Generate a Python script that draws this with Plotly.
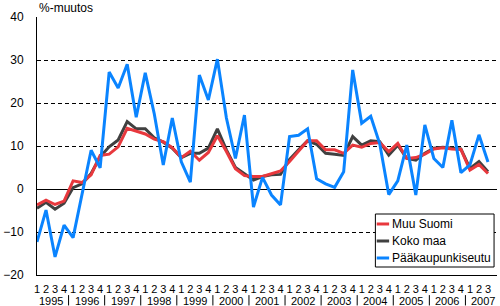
import plotly.graph_objects as go

years = [str(y) for y in range(1995, 2008)]
quarters = ["1", "2", "3", "4"] * 12 + ["1", "2", "3"]
x = list(range(len(quarters)))

muu_suomi = [-3.7, -2.6, -3.6, -2.8, 1.9, 1.5, 3.3, 7.8, 8.1, 9.8,
             14.1, 13.5, 12.8, 11.6, 11.0, 9.6, 7.3, 8.8, 6.7, 8.5,
             12.4, 8.7, 4.7, 3.1, 2.9, 2.9, 3.6, 4.2, 6.4, 8.7,
             11.2, 11.2, 9.1, 9.1, 8.3, 10.2, 9.7, 10.6, 10.8, 8.7,
             10.6, 7.1, 7.3, 8.1, 9.3, 9.6, 9.3, 9.2, 4.4, 5.7, 3.6]
koko_maa = [-4.5, -3.1, -4.7, -3.3, 0.3, 1.2, 3.6, 7.5, 9.8, 11.4,
            15.7, 14.0, 14.0, 11.9, 10.9, 9.5, 7.3, 8.3, 8.3, 9.5,
            14.0, 9.1, 5.0, 3.6, 2.1, 2.9, 3.3, 3.4, 6.9, 9.1,
            11.2, 10.4, 8.3, 8.1, 7.8, 12.2, 10.2, 11.2, 11.0, 7.9,
            10.2, 7.1, 6.7, 8.3, 9.5, 9.7, 9.5, 9.3, 4.8, 6.4, 4.0]
paakaupunkiseutu = [-12.3, -4.9, -15.8, -8.4, -11.3, -1.5, 9.0, 4.9, 27.2, 23.5,
                    29.0, 16.7, 27.0, 17.5, 5.6, 16.5, 6.3, 1.6, 26.5, 20.7,
                    30.2, 16.5, 7.1, 17.2, -4.2, 2.7, -1.4, -3.7, 12.2, 12.5,
                    14.0, 2.4, 1.2, 0.4, 4.0, 27.7, 15.3, 16.9, 10.5, -1.3,
                    1.9, 10.2, -1.4, 14.9, 7.1, 5.0, 16.0, 3.8, 5.6, 12.6, 6.3]

series_names = ["Muu Suomi", "Koko maa", "Pääkaupunkiseutu"]

RED = "#e8383d"
DARK = "#404040"
BLUE = "#0a84ff"
FONT = "Arial, Liberation Sans, sans-serif"
colors = {"Muu Suomi": RED, "Koko maa": DARK, "Pääkaupunkiseutu": BLUE}
values = {"Muu Suomi": muu_suomi, "Koko maa": koko_maa, "Pääkaupunkiseutu": paakaupunkiseutu}

fig = go.Figure()
for name in ["Koko maa", "Muu Suomi", "Pääkaupunkiseutu"]:
    fig.add_trace(go.Scatter(x=x, y=values[name], mode="lines", name=name,
                             line=dict(color=colors[name], width=3), showlegend=False))

# year labels and separators
for k, yr in enumerate(years):
    fig.add_annotation(x=1.5 + 4 * k, y=-0.1, xref="x", yref="paper", text=yr,
                       showarrow=False, yanchor="middle", font=dict(size=11, family=FONT))
for k in range(12):
    fig.add_shape(type="line", xref="x", yref="paper", x0=3.5 + 4 * k, x1=3.5 + 4 * k,
                  y0=-0.078, y1=-0.118, line=dict(color="black", width=1))

fig.add_annotation(x=0, y=1.033, xref="paper", yref="paper", text="%-muutos",
                   showarrow=False, xanchor="left", yanchor="middle",
                   font=dict(size=12, family=FONT))

# legend (drawn by hand to match the compact original box)
fig.add_shape(type="rect", xref="paper", yref="paper", x0=0.7356, x1=0.9936,
              y0=0.031, y1=0.2364, line=dict(color="black", width=1), fillcolor="white",
              layer="above")
rows = [0.1977, 0.1318, 0.0659]
for name, ry in zip(series_names, rows):
    fig.add_shape(type="line", xref="paper", yref="paper", x0=0.7385, x1=0.7655,
                  y0=ry, y1=ry, line=dict(color=colors[name], width=3), layer="above")
    fig.add_annotation(x=0.7665, y=ry, xref="paper", yref="paper", text=name,
                       showarrow=False, xanchor="left", yanchor="middle",
                       font=dict(size=12, family=FONT))

fig.update_layout(
    width=500, height=306,
    margin=dict(l=28, r=3, t=17, b=31),
    plot_bgcolor="white", paper_bgcolor="white",
    font=dict(family=FONT, size=12, color="black"),
    showlegend=False,
    xaxis=dict(range=[0, 51], tickmode="array", tickvals=x, ticktext=quarters,
               showgrid=False, zeroline=False, showline=True, linecolor="black",
               linewidth=1, ticks="", tickfont=dict(size=11), tickangle=0,
               ticklabelstandoff=4),
    yaxis=dict(range=[-20, 40], dtick=10, tick0=0, showgrid=True, gridcolor="black",
               griddash="4px,3px", gridwidth=1, zeroline=True, zerolinecolor="black",
               zerolinewidth=1, showline=True, linecolor="black", linewidth=1,
               ticks="", tickfont=dict(size=12), ticklabelstandoff=10),
)

fig.write_html("out.html")
